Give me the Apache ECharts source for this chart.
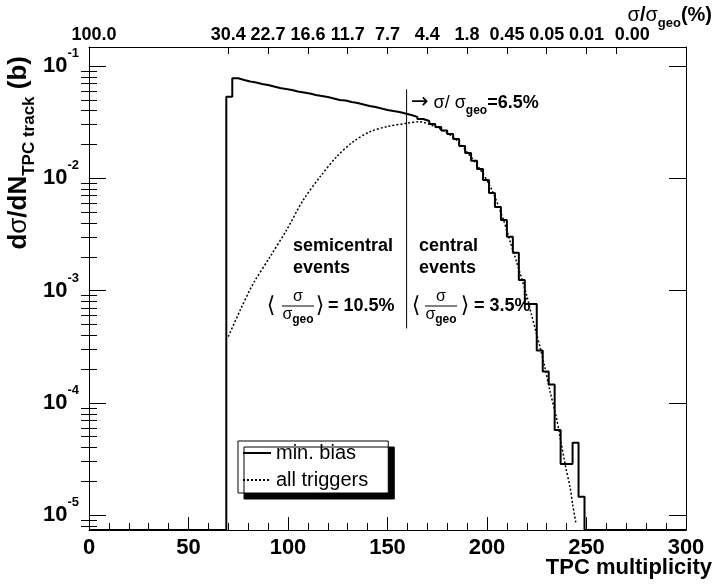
<!DOCTYPE html>
<html>
<head>
<meta charset="utf-8">
<script src="https://cdn.jsdelivr.net/npm/echarts@6/dist/echarts.min.js"></script>
<style>
  html, body { margin: 0; padding: 0; background: #fff; }
  #chart { width: 720px; height: 584px; }
</style>
</head>
<body>
<div id="chart"></div>
<script>
const FONT = "'Liberation Sans', Arial, Helvetica, sans-serif";

// min. bias histogram: low edge of each bin (width 3) and its content
const binLow = [69, 72, 75, 78, 81, 84, 87, 90, 93, 96,
  99, 102, 105, 108, 111, 114, 117, 120, 123, 126,
  129, 132, 135, 138, 141, 144, 147, 150, 153, 156,
  159, 162, 165, 168, 171, 174, 177, 180, 183, 186,
  189, 192, 195, 198, 201, 204, 207, 210, 213, 216,
  219, 222, 225, 228, 231, 234, 237, 240, 243, 246];
const minBias = [0.0533, 0.0777, 0.0750, 0.0728, 0.0713, 0.0691, 0.0677, 0.0657, 0.0637, 0.0624,
  0.0611, 0.0593, 0.0581, 0.0569, 0.0552, 0.0541, 0.0530, 0.0514, 0.0498, 0.0493,
  0.0478, 0.0468, 0.0454, 0.0440, 0.0431, 0.0418, 0.0406, 0.0397, 0.0389, 0.0378,
  0.0366, 0.0352, 0.0337, 0.0324, 0.0304, 0.0286, 0.0266, 0.0248, 0.0224, 0.0194,
  0.0168, 0.0143, 0.0121, 0.00966, 0.00740, 0.00555, 0.00425, 0.00302, 0.00217, 0.00124,
  0.00076, 0.00076, 0.000292, 0.000190, 0.000146, 5.74e-5, 2.86e-5, 2.86e-5, 4.42e-5, 1.46e-5];
const binWidth = 3;

// all triggers curve
const trigX = [70, 76, 82.6, 91, 99.3, 107.7, 116.1, 124.5, 132.8, 141.2,
  149.6, 159.6, 166, 173, 178, 184, 190, 196, 202, 208,
  211.9, 214.6, 216.6, 219.9, 222.4, 224.6, 226.6, 228.8, 231.7, 234.7,
  236.7, 239.5, 241.7, 243.1, 244.7];
const trigY = [3.89e-4, 6.71e-4, 1.16e-3, 2.00e-3, 3.47e-3, 6.41e-3, 0.0103, 0.0156, 0.0212, 0.0260,
  0.0288, 0.0309, 0.0319, 0.0292, 0.0266, 0.0224, 0.0171, 0.0124, 0.0082, 0.0044,
  2.64e-3, 1.87e-3, 1.43e-3, 9.14e-4, 6.07e-4, 4.31e-4, 3.17e-4, 2.18e-4, 1.26e-4, 7.65e-5,
  5.00e-5, 2.70e-5, 1.79e-5, 1.23e-5, 8.47e-6];

// semicentral / central boundary
const cutX = [159.6, 159.6];
const cutY = [0.062, 4.6e-4];

// axes
const yMin = 7.38e-6, yMax = 0.1476;
const yMajor = [1e-5, 1e-4, 1e-3, 1e-2, 1e-1];
const yMinor = [];
[1e-6, 1e-5, 1e-4, 1e-3, 1e-2, 1e-1].forEach(d => {
  for (let k = 2; k <= 9; k++) {
    const v = k * d;
    if (v > yMin && v < yMax) yMinor.push(v);
  }
});
const topTicks = [70, 90, 110, 130, 150, 170, 190, 210, 230, 250, 265];
const topLabelPos = [2.5, 70, 90, 110, 130, 150, 170, 190, 210, 230, 250, 273];
const topLabels = ['100.0', '30.4', '22.7', '16.6', '11.7', '7.7', '4.4', '1.8', '0.45', '0.05', '0.01', '0.00'];

const histData = [[0, yMin]];
binLow.forEach((x, i) => histData.push([x, minBias[i]]));
histData.push([binLow[binLow.length - 1] + binWidth, yMin]);
histData.push([300, yMin]);

const black = '#000';
const t = (size, weight, extra) => Object.assign({fontFamily: FONT, fontSize: size, fontWeight: weight || 'bold', fill: black}, extra || {});
const bracket = (x, ch) => ({type: 'text', x: x, y: 306, style: {text: ch, align: 'center', verticalAlign: 'middle', fontFamily: "'DejaVu Sans'", fontSize: 22, fill: black}});
// <sigma / sigma_geo> fraction centred at x
const frac = (x) => [
  {type: 'text', x: x, y: 297, style: Object.assign(t(16, 'normal'), {text: 'σ', align: 'center', verticalAlign: 'middle'})},
  {type: 'line', shape: {x1: x - 16, y1: 306, x2: x + 16, y2: 306}, style: {stroke: black, lineWidth: 1}},
  {type: 'text', x: x, y: 315, style: {
    text: '{g|σ}{s|geo}', align: 'center', verticalAlign: 'middle',
    rich: {g: t(16, 'normal', {lineHeight: 22}), s: t(12, 'bold', {lineHeight: 12, verticalAlign: 'bottom'})}
  }}
];

const yBase = {
  type: 'log', logBase: 10, min: yMin, max: yMax,
  splitLine: {show: false}
};

let chart = echarts.init(document.getElementById('chart'));
chart.setOption({
  animation: false,
  backgroundColor: '#fff',
  grid: {left: 89, top: 47, width: 597, height: 483},
  xAxis: [{
    type: 'value', min: 0, max: 300, interval: 50, position: 'bottom',
    axisLine: {show: true, onZero: false, lineStyle: {color: black, width: 1}},
    axisTick: {show: true, inside: true, length: 13, lineStyle: {color: black}},
    minorTick: {show: true, splitNumber: 5, length: 7, lineStyle: {color: black}},
    axisLabel: {color: black, fontFamily: FONT, fontWeight: 'bold', fontSize: 22, margin: 7},
    splitLine: {show: false}
  }, {
    type: 'value', min: 0, max: 300, position: 'top',
    axisLine: {show: true, onZero: false, lineStyle: {color: black, width: 1}},
    axisTick: {show: true, inside: true, length: 7, customValues: topTicks, lineStyle: {color: black}},
    axisLabel: {
      customValues: topLabelPos, margin: 3, showMinLabel: true, showMaxLabel: true, hideOverlap: false,
      color: black, fontFamily: FONT, fontWeight: 'bold', fontSize: 18,
      formatter: function (v) {
        const i = topLabelPos.indexOf(v);
        return i >= 0 ? topLabels[i] : '';
      }
    },
    splitLine: {show: false}
  }],
  yAxis: [Object.assign({}, yBase, {
    position: 'left',
    axisLine: {show: true, onZero: false, lineStyle: {color: black, width: 1}},
    axisTick: {show: true, inside: true, length: 17, customValues: yMajor, lineStyle: {color: black}},
    axisLabel: {
      customValues: yMajor, margin: 10, showMinLabel: true, showMaxLabel: true,
      formatter: function (v) {
        return '{b|10}{e|' + Math.round(Math.log10(v)) + '}';
      },
      rich: {
        b: {fontFamily: FONT, fontWeight: 'bold', fontSize: 22, lineHeight: 38, color: black},
        e: {fontFamily: FONT, fontWeight: 'bold', fontSize: 13, lineHeight: 14, verticalAlign: 'top', color: black}
      }
    }
  }), Object.assign({}, yBase, {
    position: 'left',
    axisLine: {show: false},
    axisTick: {show: true, inside: true, length: 8, customValues: yMinor, lineStyle: {color: black}},
    axisLabel: {show: false}
  }), Object.assign({}, yBase, {
    position: 'right',
    axisLine: {show: true, onZero: false, lineStyle: {color: black, width: 1}},
    axisTick: {show: true, inside: true, length: 17, customValues: yMajor, lineStyle: {color: black}},
    axisLabel: {show: false}
  }), Object.assign({}, yBase, {
    position: 'right',
    axisLine: {show: false},
    axisTick: {show: true, inside: true, length: 8, customValues: yMinor, lineStyle: {color: black}},
    axisLabel: {show: false}
  })],
  legend: {
    orient: 'vertical', left: 238, top: 441,
    data: ['min. bias', 'all triggers'],
    selectedMode: false,
    itemWidth: 28, itemHeight: 14, itemGap: 7,
    padding: [2, 20, 3, 4],
    itemStyle: {opacity: 0},
    backgroundColor: '#fff', borderColor: black, borderWidth: 1, borderRadius: 0,
    shadowColor: black, shadowBlur: 0, shadowOffsetX: 6, shadowOffsetY: 6,
    textStyle: {fontFamily: FONT, fontSize: 20, color: black}
  },
  series: [{
    name: 'min. bias', type: 'line', step: 'end',
    data: histData, symbol: 'none',
    lineStyle: {color: black, width: 2}, itemStyle: {color: black}, z: 3
  }, {
    name: 'all triggers', type: 'line',
    data: trigX.map((x, i) => [x, trigY[i]]),
    smooth: 0.3, symbol: 'none',
    lineStyle: {color: black, width: 1.5, type: [2, 2]}, itemStyle: {color: black}
  }, {
    type: 'line', data: cutX.map((x, i) => [x, cutY[i]]), symbol: 'none', silent: true,
    lineStyle: {color: black, width: 1}
  }],
  graphic: [
    // y title
    {type: 'text', x: 19, y: 56, rotation: Math.PI / 2, style: {
      text: '{a|d}{g|σ}{a|/dN}{s|TPC track}{a| (b)}', align: 'right', verticalAlign: 'middle',
      rich: {
        a: t(26, 'bold', {lineHeight: 37}),
        g: t(26, 'normal', {lineHeight: 37}),
        s: t(17, 'bold', {lineHeight: 17, verticalAlign: 'bottom'})
      }
    }},
    // top axis title
    {type: 'text', x: 712, y: 15, style: {
      text: '{g|σ}{a|/}{g|σ}{s|geo}{a|(%)}', align: 'right', verticalAlign: 'middle',
      rich: {
        a: t(20, 'bold', {lineHeight: 30}),
        g: t(20, 'normal', {lineHeight: 30}),
        s: t(13, 'bold', {lineHeight: 13, verticalAlign: 'bottom'})
      }
    }},
    // x title
    {type: 'text', x: 712, y: 568, style: Object.assign(t(22, 'bold'), {text: 'TPC multiplicity', align: 'right', verticalAlign: 'middle'})},
    // 6.5% cut
    {type: 'text', x: 411, y: 103, style: {
      text: '{r|→}{g| σ/ σ}{s|geo}{a|=6.5%}', align: 'left', verticalAlign: 'middle',
      rich: {
        r: {fontFamily: "'DejaVu Sans'", fontSize: 21, fill: black, lineHeight: 28},
        g: t(18, 'normal', {lineHeight: 28}),
        s: t(12, 'bold', {lineHeight: 12, verticalAlign: 'bottom'}),
        a: t(18, 'bold', {lineHeight: 28})
      }
    }},
    // semicentral
    {type: 'text', x: 293, y: 246, style: Object.assign(t(18), {text: 'semicentral', verticalAlign: 'middle'})},
    {type: 'text', x: 293, y: 268, style: Object.assign(t(18), {text: 'events', verticalAlign: 'middle'})},
    bracket(271, '⟨'),
    ...frac(298),
    bracket(320, '⟩'),
    {type: 'text', x: 328, y: 306, style: Object.assign(t(18), {text: '= 10.5%', verticalAlign: 'middle'})},
    // central
    {type: 'text', x: 419, y: 246, style: Object.assign(t(18), {text: 'central', verticalAlign: 'middle'})},
    {type: 'text', x: 419, y: 268, style: Object.assign(t(18), {text: 'events', verticalAlign: 'middle'})},
    bracket(416, '⟨'),
    ...frac(441),
    bracket(465, '⟩'),
    {type: 'text', x: 474, y: 306, style: Object.assign(t(18), {text: '= 3.5%', verticalAlign: 'middle'})}
  ]
});
</script>
</body>
</html>
